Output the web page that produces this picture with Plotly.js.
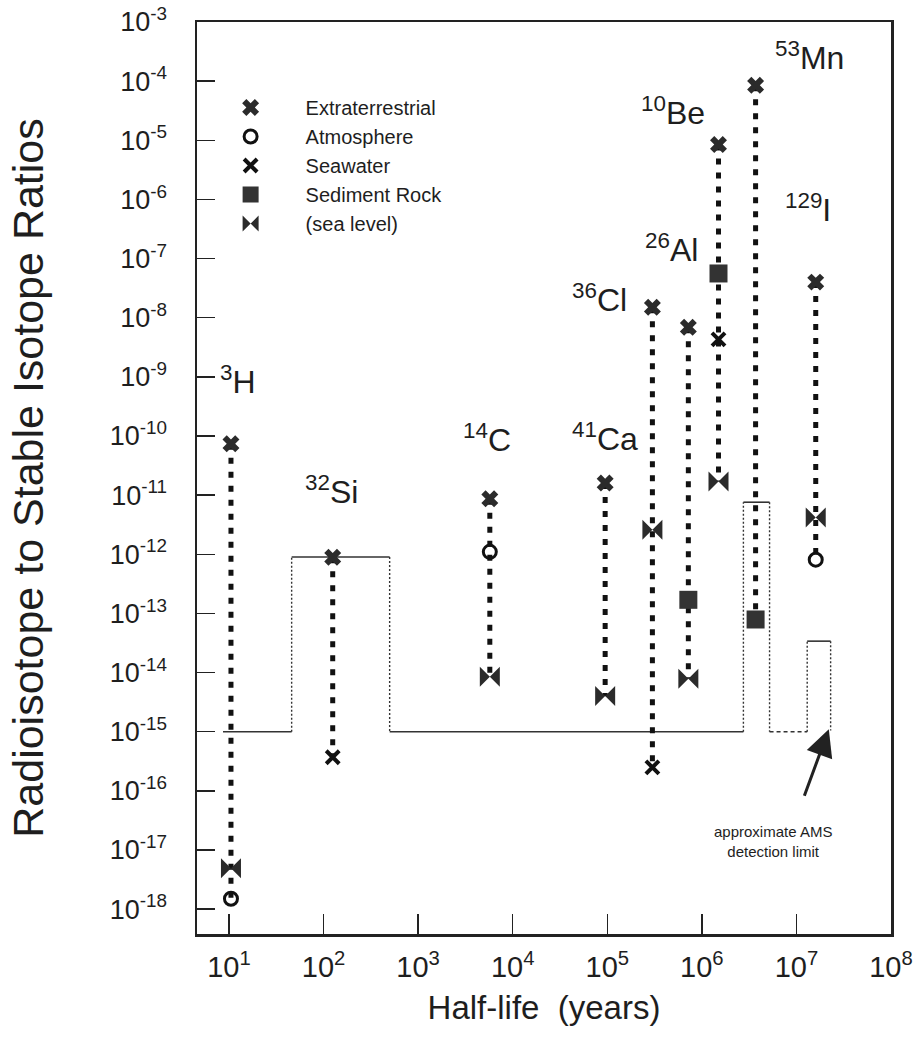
<!DOCTYPE html>
<html>
<head>
<meta charset="utf-8">
<script src="https://cdn.plot.ly/plotly-3.0.1.min.js"></script>
<style>
  html, body { margin: 0; padding: 0; background: #ffffff; }
  #chart { width: 918px; height: 1051px; }
</style>
</head>
<body>
<div id="chart"></div>
<script>
// ---- Data ----
const isotopes      = ['3H', '32Si', '14C', '41Ca', '36Cl', '26Al', '10Be', '53Mn', '129I'];
const isotopeLabels = ['<sup>3</sup>H', '<sup>32</sup>Si', '<sup>14</sup>C', '<sup>41</sup>Ca', '<sup>36</sup>Cl',
                       '<sup>26</sup>Al', '<sup>10</sup>Be', '<sup>53</sup>Mn', '<sup>129</sup>I'];
const halfLife      = [10.5, 125, 5730, 9.5e4, 3.0e5, 7.2e5, 1.5e6, 3.7e6, 1.6e7];   // years

const extraterrestrial = [7.4e-11, 8.9e-13, 8.7e-12, 1.6e-11, 1.5e-8, 6.9e-9, 8.5e-6, 8.5e-5, 4.0e-8];
const atmosphere       = [1.5e-18, null,    1.1e-12, null,    null,   null,   null,   null,   8.1e-13];
const seawater         = [null,    3.7e-16, null,    null,    2.5e-16, null,  4.3e-9, null,   null];
const sedimentRock     = [null,    null,    null,    null,    null,   1.7e-13, 5.6e-8, 7.9e-14, null];
const seaLevel         = [4.9e-18, null,    8.5e-15, 4.0e-15, 2.6e-12, 7.9e-15, 1.7e-11, null, 4.2e-12];

// approximate AMS detection limit (step outline)
const amsX = [8.65, 46, 46, 500, 500, 2.75e6, 2.75e6, 5.2e6, 5.2e6, 1.3e7, 1.3e7, 2.3e7, 2.3e7];
const amsY = [1e-15, 1e-15, 9e-13, 9e-13, 1e-15, 1e-15, 7.6e-12, 7.6e-12, 1e-15, 1e-15, 3.4e-14, 3.4e-14, 1.05e-15];
const amsSegStyle = ['solid', 'dot', 'solid', 'dot', 'solid', 'dot', 'solid', 'dot', 'dash', 'dot', 'solid', 'dot'];

const xTickVals = [1e1, 1e2, 1e3, 1e4, 1e5, 1e6, 1e7, 1e8];
const xTickText = ['10<sup>1</sup>', '10<sup>2</sup>', '10<sup>3</sup>', '10<sup>4</sup>', '10<sup>5</sup>',
                   '10<sup>6</sup>', '10<sup>7</sup>', '10<sup>8</sup>'];
const yExp      = [-3, -4, -5, -6, -7, -8, -9, -10, -11, -12, -13, -14, -15, -16, -17, -18];
const yTickVals = yExp.map(e => Math.pow(10, e));
const yTickText = yExp.map(e => '10<sup>' + e + '</sup>');

// ---- Build traces ----
const FONT = 'Liberation Sans, Arial, Helvetica, sans-serif';
const INK = '#1e1e1e';
const traces = [];

// detection-limit outline
for (let i = 0; i < amsSegStyle.length; i++) {
  traces.push({
    x: [amsX[i], amsX[i + 1]], y: [amsY[i], amsY[i + 1]],
    mode: 'lines', showlegend: false, hoverinfo: 'skip',
    line: { color: '#333', width: amsSegStyle[i] === 'solid' ? 1.6 : 1.4, dash: amsSegStyle[i] === 'dot' ? '2px,2px' : (amsSegStyle[i] === 'dash' ? '4px,3px' : 'solid') }
  });
}

// vertical ranges per isotope
const allSeries = [extraterrestrial, atmosphere, seawater, sedimentRock, seaLevel];
isotopes.forEach((iso, i) => {
  const vals = allSeries.map(s => s[i]).filter(v => v !== null);
  traces.push({
    x: [halfLife[i], halfLife[i]], y: [Math.max(...vals), Math.min(...vals)],
    mode: 'lines', showlegend: false, hoverinfo: 'skip', name: iso,
    line: { color: '#111', width: 5, dash: '6px,8px' }
  });
});

function markerTrace(name, series, marker) {
  return { x: halfLife, y: series, name: name, mode: 'markers', type: 'scatter', marker: marker, cliponaxis: false };
}
traces.push(markerTrace('Extraterrestrial', extraterrestrial, { symbol: 'x', size: 15, color: '#2b2b2b', line: { width: 0 } }));
traces.push(markerTrace('Atmosphere', atmosphere, { symbol: 'circle-open', size: 13, color: '#111', line: { width: 3, color: '#111' } }));
traces.push(markerTrace('Seawater', seawater, { symbol: 'x-thin-open', size: 13, color: '#111', line: { width: 4, color: '#111' } }));
traces.push(markerTrace('Sediment Rock', sedimentRock, { symbol: 'square', size: 18, color: '#333', line: { width: 0 } }));
traces.push(markerTrace('(sea level)', seaLevel, { symbol: 'bowtie', size: 20, color: '#2b2b2b', line: { width: 0 } }));

// ---- Annotations ----
const labelPos = {  // label anchor positions (left edge, vertical centre) in data space
  '3H':   [7.74,   9.0e-10],
  '32Si': [61.2,   1.2e-11],
  '14C':  [2858,   9.1e-11],
  '41Ca': [4.05e4, 9.8e-11],
  '36Cl': [4.05e4, 2.12e-8],
  '26Al': [2.39e5, 1.49e-7],
  '10Be': [2.17e5, 3.09e-5],
  '53Mn': [5.65e6, 2.63e-4],
  '129I': [7.19e6, 7.08e-7]
};
const annotations = isotopes.map((iso, i) => ({
  x: Math.log10(labelPos[iso][0]), y: Math.log10(labelPos[iso][1]),
  xref: 'x', yref: 'y', text: isotopeLabels[i], showarrow: false,
  xanchor: 'left', yanchor: 'middle',
  font: { family: FONT, size: 32, color: INK }
}));
annotations.push({
  x: Math.log10(5.6e6), y: -16.85, xref: 'x', yref: 'y',
  text: 'approximate AMS<br>detection limit', showarrow: false,
  xanchor: 'center', yanchor: 'middle', align: 'center',
  font: { family: FONT, size: 15, color: INK }
});
annotations.push({
  x: Math.log10(2.2e7), y: Math.log10(1.1e-15), xref: 'x', yref: 'y',
  text: '', showarrow: true, arrowhead: 2, arrowsize: 1.8, arrowwidth: 3, arrowcolor: '#222',
  ax: -25, ay: 68, standoff: 0
});

const layout = {
  width: 918, height: 1051,
  margin: { l: 197, r: 27, t: 22, b: 117 },
  paper_bgcolor: '#ffffff', plot_bgcolor: '#ffffff',
  font: { family: FONT, color: INK },
  showlegend: true,
  legend: {
    x: -0.002, y: 0.9276, xanchor: 'left', yanchor: 'top',
    bgcolor: 'rgba(0,0,0,0)', borderwidth: 0,
    font: { family: FONT, size: 20, color: INK },
    itemsizing: 'trace', itemwidth: 100, tracegroupgap: 0
  },
  xaxis: {
    type: 'log', range: [0.662, 8.0],
    tickvals: xTickVals, ticktext: xTickText,
    ticks: 'inside', ticklen: 20, tickwidth: 1.5, tickcolor: '#222',
    showline: true, linecolor: '#222', linewidth: 2.5, mirror: true,
    showgrid: false, zeroline: false,
    tickfont: { family: FONT, size: 29, color: INK },
    ticklabelstandoff: 6,
    title: { text: 'Half-life  (years)', font: { family: FONT, size: 33, color: INK }, standoff: 14 }
  },
  yaxis: {
    type: 'log', range: [-18.42, -3],
    tickvals: yTickVals, ticktext: yTickText,
    ticks: 'inside', ticklen: 18, tickwidth: 1.5, tickcolor: '#222',
    showline: true, linecolor: '#222', linewidth: 2.5, mirror: true,
    showgrid: false, zeroline: false,
    tickfont: { family: FONT, size: 27, color: INK },
    ticklabelstandoff: 22,
    title: { text: 'Radioisotope to Stable Isotope Ratios', font: { family: FONT, size: 43, color: INK }, standoff: 53 }
  },
  annotations: annotations
};

Plotly.newPlot('chart', traces, layout, { displayModeBar: false, staticPlot: true });
</script>
</body>
</html>
